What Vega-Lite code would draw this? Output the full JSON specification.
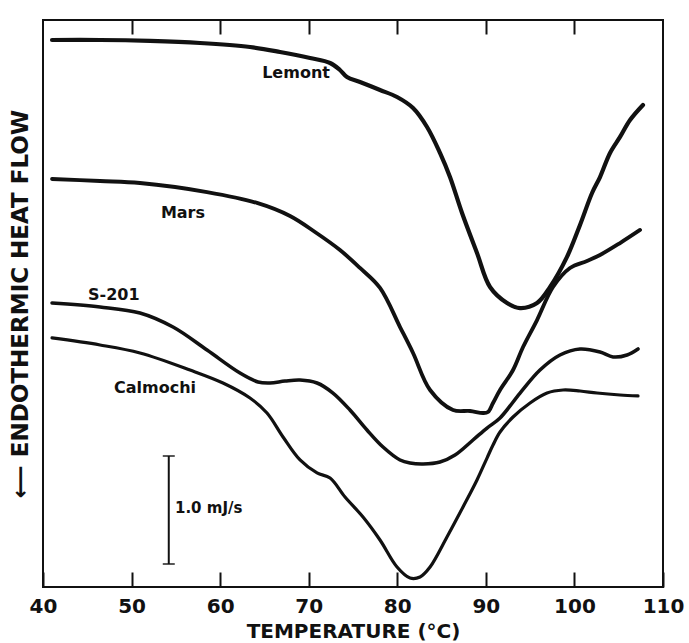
{
  "$schema": "https://vega.github.io/schema/vega-lite/v6.json",
  "width": 620,
  "height": 567,
  "autosize": {"type": "none"},
  "padding": {"left": 43, "top": 20, "right": 26, "bottom": 56},
  "background": "white",
  "config": {
    "view": {"stroke": "#111", "strokeWidth": 2},
    "font": "DejaVu Sans",
    "axis": {"labelFont": "DejaVu Sans", "titleFont": "DejaVu Sans", "labelFontWeight": "bold", "titleFontWeight": "bold", "labelColor": "#111", "titleColor": "#111", "grid": false}
  },
  "datasets": {
    "curves": [
      {"sample": "Lemont", "temperature": 41.02, "heat_flow": 5.065},
      {"sample": "Lemont", "temperature": 46.44, "heat_flow": 5.065},
      {"sample": "Lemont", "temperature": 52.08, "heat_flow": 5.056},
      {"sample": "Lemont", "temperature": 57.73, "heat_flow": 5.037},
      {"sample": "Lemont", "temperature": 63.37, "heat_flow": 5.0},
      {"sample": "Lemont", "temperature": 66.76, "heat_flow": 4.954},
      {"sample": "Lemont", "temperature": 70.15, "heat_flow": 4.898},
      {"sample": "Lemont", "temperature": 72.41, "heat_flow": 4.852},
      {"sample": "Lemont", "temperature": 73.53, "heat_flow": 4.787},
      {"sample": "Lemont", "temperature": 74.32, "heat_flow": 4.722},
      {"sample": "Lemont", "temperature": 75.79, "heat_flow": 4.676},
      {"sample": "Lemont", "temperature": 78.05, "heat_flow": 4.602},
      {"sample": "Lemont", "temperature": 79.97, "heat_flow": 4.537},
      {"sample": "Lemont", "temperature": 81.78, "heat_flow": 4.435},
      {"sample": "Lemont", "temperature": 83.36, "heat_flow": 4.259},
      {"sample": "Lemont", "temperature": 84.82, "heat_flow": 4.019},
      {"sample": "Lemont", "temperature": 85.95, "heat_flow": 3.796},
      {"sample": "Lemont", "temperature": 87.31, "heat_flow": 3.463},
      {"sample": "Lemont", "temperature": 89.0, "heat_flow": 3.093},
      {"sample": "Lemont", "temperature": 90.47, "heat_flow": 2.778},
      {"sample": "Lemont", "temperature": 92.39, "heat_flow": 2.63},
      {"sample": "Lemont", "temperature": 93.86, "heat_flow": 2.583},
      {"sample": "Lemont", "temperature": 95.78, "heat_flow": 2.63},
      {"sample": "Lemont", "temperature": 97.25, "heat_flow": 2.778},
      {"sample": "Lemont", "temperature": 99.16, "heat_flow": 3.056},
      {"sample": "Lemont", "temperature": 100.63, "heat_flow": 3.352},
      {"sample": "Lemont", "temperature": 101.99, "heat_flow": 3.648},
      {"sample": "Lemont", "temperature": 102.89, "heat_flow": 3.796},
      {"sample": "Lemont", "temperature": 104.02, "heat_flow": 4.019},
      {"sample": "Lemont", "temperature": 105.15, "heat_flow": 4.167},
      {"sample": "Lemont", "temperature": 106.28, "heat_flow": 4.324},
      {"sample": "Lemont", "temperature": 107.74, "heat_flow": 4.463},
      {"sample": "Mars", "temperature": 41.02, "heat_flow": 3.778},
      {"sample": "Mars", "temperature": 46.44, "heat_flow": 3.759},
      {"sample": "Mars", "temperature": 50.95, "heat_flow": 3.741},
      {"sample": "Mars", "temperature": 58.52, "heat_flow": 3.657},
      {"sample": "Mars", "temperature": 64.16, "heat_flow": 3.556},
      {"sample": "Mars", "temperature": 67.89, "heat_flow": 3.435},
      {"sample": "Mars", "temperature": 70.71, "heat_flow": 3.287},
      {"sample": "Mars", "temperature": 73.53, "heat_flow": 3.12},
      {"sample": "Mars", "temperature": 75.79, "heat_flow": 2.954},
      {"sample": "Mars", "temperature": 78.05, "heat_flow": 2.769},
      {"sample": "Mars", "temperature": 80.31, "heat_flow": 2.407},
      {"sample": "Mars", "temperature": 81.78, "heat_flow": 2.167},
      {"sample": "Mars", "temperature": 83.7, "heat_flow": 1.824},
      {"sample": "Mars", "temperature": 86.29, "heat_flow": 1.639},
      {"sample": "Mars", "temperature": 88.21, "heat_flow": 1.63},
      {"sample": "Mars", "temperature": 89.68, "heat_flow": 1.611},
      {"sample": "Mars", "temperature": 90.24, "heat_flow": 1.62},
      {"sample": "Mars", "temperature": 90.81, "heat_flow": 1.704},
      {"sample": "Mars", "temperature": 91.6, "heat_flow": 1.824},
      {"sample": "Mars", "temperature": 93.07, "heat_flow": 2.009},
      {"sample": "Mars", "temperature": 94.2, "heat_flow": 2.222},
      {"sample": "Mars", "temperature": 95.78, "heat_flow": 2.472},
      {"sample": "Mars", "temperature": 97.58, "heat_flow": 2.778},
      {"sample": "Mars", "temperature": 99.5, "heat_flow": 2.954},
      {"sample": "Mars", "temperature": 101.42, "heat_flow": 3.019},
      {"sample": "Mars", "temperature": 102.89, "heat_flow": 3.074},
      {"sample": "Mars", "temperature": 105.15, "heat_flow": 3.185},
      {"sample": "Mars", "temperature": 107.41, "heat_flow": 3.306},
      {"sample": "S-201", "temperature": 41.02, "heat_flow": 2.63},
      {"sample": "S-201", "temperature": 46.44, "heat_flow": 2.593},
      {"sample": "S-201", "temperature": 50.95, "heat_flow": 2.537},
      {"sample": "S-201", "temperature": 54.68, "heat_flow": 2.407},
      {"sample": "S-201", "temperature": 58.52, "heat_flow": 2.194},
      {"sample": "S-201", "temperature": 62.24, "heat_flow": 1.981},
      {"sample": "S-201", "temperature": 64.28, "heat_flow": 1.898},
      {"sample": "S-201", "temperature": 65.63, "heat_flow": 1.889},
      {"sample": "S-201", "temperature": 67.32, "heat_flow": 1.907},
      {"sample": "S-201", "temperature": 69.02, "heat_flow": 1.917},
      {"sample": "S-201", "temperature": 70.94, "heat_flow": 1.889},
      {"sample": "S-201", "temperature": 72.74, "heat_flow": 1.796},
      {"sample": "S-201", "temperature": 74.66, "heat_flow": 1.639},
      {"sample": "S-201", "temperature": 76.58, "heat_flow": 1.454},
      {"sample": "S-201", "temperature": 78.39, "heat_flow": 1.296},
      {"sample": "S-201", "temperature": 80.31, "heat_flow": 1.176},
      {"sample": "S-201", "temperature": 81.44, "heat_flow": 1.148},
      {"sample": "S-201", "temperature": 82.91, "heat_flow": 1.139},
      {"sample": "S-201", "temperature": 84.82, "heat_flow": 1.157},
      {"sample": "S-201", "temperature": 86.52, "heat_flow": 1.222},
      {"sample": "S-201", "temperature": 88.55, "heat_flow": 1.361},
      {"sample": "S-201", "temperature": 90.13, "heat_flow": 1.472},
      {"sample": "S-201", "temperature": 91.6, "heat_flow": 1.565},
      {"sample": "S-201", "temperature": 93.86, "heat_flow": 1.796},
      {"sample": "S-201", "temperature": 96.11, "heat_flow": 2.009},
      {"sample": "S-201", "temperature": 98.37, "heat_flow": 2.148},
      {"sample": "S-201", "temperature": 100.63, "heat_flow": 2.204},
      {"sample": "S-201", "temperature": 102.89, "heat_flow": 2.176},
      {"sample": "S-201", "temperature": 104.36, "heat_flow": 2.13},
      {"sample": "S-201", "temperature": 105.94, "heat_flow": 2.148},
      {"sample": "S-201", "temperature": 107.18, "heat_flow": 2.204},
      {"sample": "Calmochi", "temperature": 41.02, "heat_flow": 2.306},
      {"sample": "Calmochi", "temperature": 46.44, "heat_flow": 2.241},
      {"sample": "Calmochi", "temperature": 50.95, "heat_flow": 2.167},
      {"sample": "Calmochi", "temperature": 56.6, "heat_flow": 2.009},
      {"sample": "Calmochi", "temperature": 60.32, "heat_flow": 1.889},
      {"sample": "Calmochi", "temperature": 63.37, "heat_flow": 1.75},
      {"sample": "Calmochi", "temperature": 65.29, "heat_flow": 1.611},
      {"sample": "Calmochi", "temperature": 67.1, "heat_flow": 1.389},
      {"sample": "Calmochi", "temperature": 69.02, "heat_flow": 1.176},
      {"sample": "Calmochi", "temperature": 70.94, "heat_flow": 1.056},
      {"sample": "Calmochi", "temperature": 72.41, "heat_flow": 1.009},
      {"sample": "Calmochi", "temperature": 74.1, "heat_flow": 0.833},
      {"sample": "Calmochi", "temperature": 76.13, "heat_flow": 0.648},
      {"sample": "Calmochi", "temperature": 78.05, "heat_flow": 0.435},
      {"sample": "Calmochi", "temperature": 79.97, "heat_flow": 0.185},
      {"sample": "Calmochi", "temperature": 81.44, "heat_flow": 0.083},
      {"sample": "Calmochi", "temperature": 82.57, "heat_flow": 0.093},
      {"sample": "Calmochi", "temperature": 83.7, "heat_flow": 0.185},
      {"sample": "Calmochi", "temperature": 85.61, "heat_flow": 0.463},
      {"sample": "Calmochi", "temperature": 87.42, "heat_flow": 0.741},
      {"sample": "Calmochi", "temperature": 89.0, "heat_flow": 0.991},
      {"sample": "Calmochi", "temperature": 90.13, "heat_flow": 1.194},
      {"sample": "Calmochi", "temperature": 90.81, "heat_flow": 1.315},
      {"sample": "Calmochi", "temperature": 91.6, "heat_flow": 1.435},
      {"sample": "Calmochi", "temperature": 93.07, "heat_flow": 1.574},
      {"sample": "Calmochi", "temperature": 94.99, "heat_flow": 1.704},
      {"sample": "Calmochi", "temperature": 96.91, "heat_flow": 1.796},
      {"sample": "Calmochi", "temperature": 98.71, "heat_flow": 1.824},
      {"sample": "Calmochi", "temperature": 100.63, "heat_flow": 1.815},
      {"sample": "Calmochi", "temperature": 102.55, "heat_flow": 1.796},
      {"sample": "Calmochi", "temperature": 105.15, "heat_flow": 1.778},
      {"sample": "Calmochi", "temperature": 107.18, "heat_flow": 1.769}
    ],
    "labels": [
      {"label": "Lemont", "temperature": 68.57, "heat_flow": 4.76},
      {"label": "Mars", "temperature": 55.8, "heat_flow": 3.46},
      {"label": "S-201", "temperature": 48.0, "heat_flow": 2.7},
      {"label": "Calmochi", "temperature": 52.65, "heat_flow": 1.84}
    ],
    "scalebar": [
      {"temperature": 54.2, "heat_flow": 0.213},
      {"temperature": 54.2, "heat_flow": 1.213}
    ],
    "scalelabel": [
      {"label": "1.0 mJ/s", "temperature": 54.9, "heat_flow": 0.73}
    ]
  },
  "resolve": {"axis": {"x": "independent"}},
  "layer": [
    {
      "data": {"name": "curves"},
      "mark": {"type": "line", "interpolate": "catmull-rom", "color": "#111", "strokeCap": "round"},
      "encoding": {
        "x": {"field": "temperature", "type": "quantitative", "scale": {"domain": [40, 110], "nice": false, "zero": false},
          "axis": {"orient": "bottom", "values": [40, 50, 60, 70, 80, 90, 100, 110], "tickSize": -15, "tickWidth": 2, "tickColor": "#111", "domain": false, "labelFontSize": 20, "labelPadding": 24, "labelFlush": false, "labelOverlap": false, "title": "TEMPERATURE (°C)", "titleFontSize": 20, "titlePadding": 5}},
        "y": {"field": "heat_flow", "type": "quantitative", "scale": {"domain": [0, 5.25], "nice": false, "zero": false},
          "axis": {"ticks": false, "labels": false, "domain": false, "grid": false, "title": "⟵ ENDOTHERMIC HEAT FLOW", "titleFontSize": 23, "titlePadding": 11}},
        "detail": {"field": "sample", "type": "nominal"},
        "strokeWidth": {"field": "sample", "type": "nominal", "scale": {"domain": ["Lemont", "Mars", "S-201", "Calmochi"], "range": [4.2, 3.2, 3.2, 3.4]}, "legend": null}
      }
    },
    {
      "data": {"name": "labels"},
      "mark": {"type": "text", "font": "DejaVu Sans", "fontWeight": "bold", "fontSize": 16, "color": "#111", "align": "center", "baseline": "middle"},
      "encoding": {
        "x": {"field": "temperature", "type": "quantitative", "axis": {"orient": "top", "values": [50, 60, 70, 80, 90, 100], "tickSize": -14, "tickWidth": 2, "tickColor": "#111", "labels": false, "domain": false, "title": null}},
        "y": {"field": "heat_flow", "type": "quantitative"},
        "text": {"field": "label", "type": "nominal"}
      }
    },
    {
      "data": {"name": "scalebar"},
      "mark": {"type": "line", "color": "#111", "strokeWidth": 2},
      "encoding": {
        "x": {"field": "temperature", "type": "quantitative", "axis": null},
        "y": {"field": "heat_flow", "type": "quantitative"},
        "order": {"field": "heat_flow", "type": "quantitative"}
      }
    },
    {
      "data": {"name": "scalebar"},
      "mark": {"type": "tick", "orient": "horizontal", "size": 12, "thickness": 2, "color": "#111"},
      "encoding": {
        "x": {"field": "temperature", "type": "quantitative", "axis": null},
        "y": {"field": "heat_flow", "type": "quantitative"}
      }
    },
    {
      "data": {"name": "scalelabel"},
      "mark": {"type": "text", "font": "DejaVu Sans", "fontWeight": "bold", "fontSize": 15, "color": "#111", "align": "left", "baseline": "middle"},
      "encoding": {
        "x": {"field": "temperature", "type": "quantitative", "axis": null},
        "y": {"field": "heat_flow", "type": "quantitative"},
        "text": {"field": "label", "type": "nominal"}
      }
    }
  ]
}
